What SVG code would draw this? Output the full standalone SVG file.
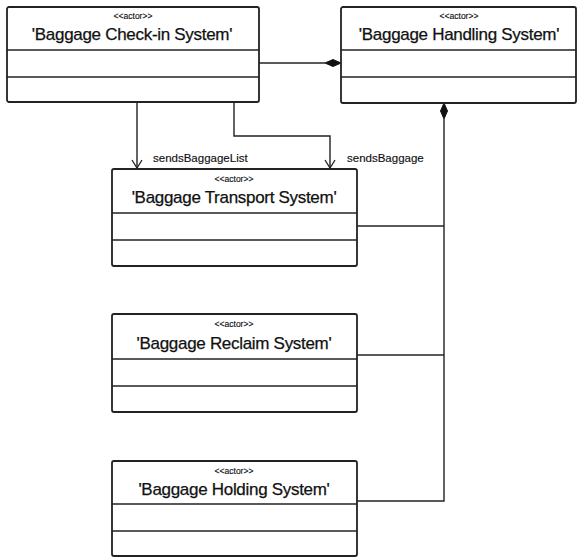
<svg xmlns="http://www.w3.org/2000/svg" width="578" height="558" viewBox="0 0 578 558">
<style>
.box{fill:#fff;stroke:#222;stroke-width:1.8}
.div{stroke:#222;stroke-width:1.6;fill:none}
.st{font-family:"Liberation Sans",Arial,sans-serif;font-size:8.5px;fill:#111;text-anchor:middle;stroke:#111;stroke-width:0.15}
.tt{font-family:"Liberation Sans",Arial,sans-serif;font-size:17px;fill:#111;text-anchor:middle;letter-spacing:-0.3px;stroke:#111;stroke-width:0.25}
.ln{stroke:#222;stroke-width:1.4;fill:none}
.lbl{font-family:"Liberation Sans",Arial,sans-serif;font-size:11.5px;fill:#111;stroke:#111;stroke-width:0.15}
</style>
<defs>
<marker id="open" markerWidth="12" markerHeight="12" refX="10" refY="6" orient="auto" markerUnits="userSpaceOnUse" viewBox="0 0 12 12">
<path d="M2,1 L10,6 L2,11" fill="none" stroke="#222" stroke-width="1.3"/>
</marker>
</defs>
<rect width="578" height="558" fill="#fff"/>
<g id="connectors">
<line class="ln" x1="259" y1="63" x2="325" y2="63"/>
<path d="M325,63 L333,59.5 L341,63 L333,66.5 Z" fill="#111" stroke="#111" stroke-width="1"/>
<path d="M444,103 L447.5,111 L444,119 L440.5,111 Z" fill="#111" stroke="#111" stroke-width="1"/>
<polyline class="ln" points="444,119 444,501 357,501"/>
<line class="ln" x1="357" y1="226" x2="444" y2="226"/>
<line class="ln" x1="357" y1="355" x2="444" y2="355"/>
<line class="ln" x1="137" y1="102" x2="137" y2="168" marker-end="url(#open)"/>
<polyline class="ln" points="234,102 234,136 330,136 330,168" marker-end="url(#open)"/>
<text class="lbl" x="153" y="162">sendsBaggageList</text>
<text class="lbl" x="347" y="162">sendsBaggage</text>
</g>
<g id="checkin">
<rect class="box" x="7" y="7" width="252" height="95" rx="2"/>
<line class="div" x1="7" y1="50" x2="259" y2="50"/>
<line class="div" x1="7" y1="77" x2="259" y2="77"/>
<text class="st" x="133" y="19">&lt;&lt;actor&gt;&gt;</text>
<text class="tt" x="132" y="40">'Baggage Check-in System'</text>
</g>
<g id="handling">
<rect class="box" x="341" y="7" width="235" height="96" rx="2"/>
<line class="div" x1="341" y1="50" x2="576" y2="50"/>
<line class="div" x1="341" y1="77" x2="576" y2="77"/>
<text class="st" x="459" y="19">&lt;&lt;actor&gt;&gt;</text>
<text class="tt" x="459" y="40">'Baggage Handling System'</text>
</g>
<g id="transport">
<rect class="box" x="112" y="169" width="245" height="97" rx="2"/>
<line class="div" x1="112" y1="213" x2="357" y2="213"/>
<line class="div" x1="112" y1="240" x2="357" y2="240"/>
<text class="st" x="234" y="182">&lt;&lt;actor&gt;&gt;</text>
<text class="tt" x="234" y="203">'Baggage Transport System'</text>
</g>
<g id="reclaim">
<rect class="box" x="112" y="314" width="245" height="98" rx="2"/>
<line class="div" x1="112" y1="359" x2="357" y2="359"/>
<line class="div" x1="112" y1="386" x2="357" y2="386"/>
<text class="st" x="234" y="327">&lt;&lt;actor&gt;&gt;</text>
<text class="tt" x="234" y="349">'Baggage Reclaim System'</text>
</g>
<g id="holding">
<rect class="box" x="112" y="461" width="245" height="95" rx="2"/>
<line class="div" x1="112" y1="504" x2="357" y2="504"/>
<line class="div" x1="112" y1="531" x2="357" y2="531"/>
<text class="st" x="234" y="474">&lt;&lt;actor&gt;&gt;</text>
<text class="tt" x="234" y="495">'Baggage Holding System'</text>
</g>
</svg>
